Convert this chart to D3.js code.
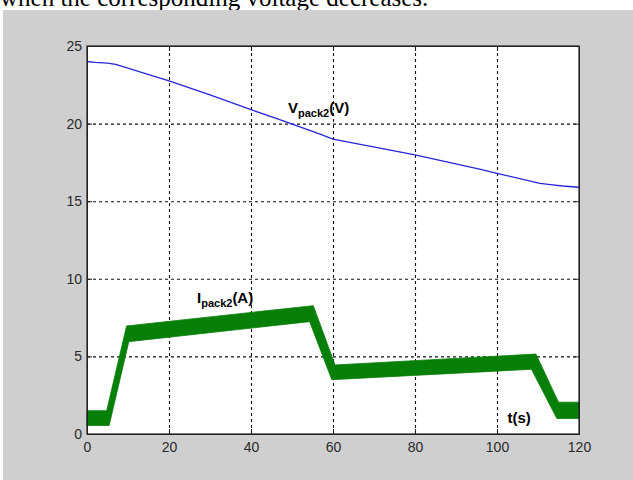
<!DOCTYPE html>
<html>
<head>
<meta charset="utf-8">
<script src="https://d3js.org/d3.v7.min.js"></script>
<style>
  body { margin: 0; background: #fff; }
  svg { display: block; }
  .tick text { font-family: "Liberation Sans", Arial, sans-serif; font-size: 14px; fill: #2a2a2a; }
  .lbl { font-family: "Liberation Sans", Arial, sans-serif; font-weight: bold; fill: #000; }
</style>
</head>
<body>
<svg id="chart" width="633" height="480"></svg>
<script>
// voltage of pack 2 (V)
var timeV = [0, 2, 5, 7, 20, 30, 40, 47, 55, 57, 60, 80, 96, 100, 110.5, 113, 116, 120];
var volt  = [24.0, 23.95, 23.9, 23.82, 22.75, 21.85, 20.9, 20.25, 19.5, 19.3, 19.0, 17.98, 17.05, 16.8, 16.15, 16.07, 15.98, 15.9];

// current of pack 2 (A): the ripple band, upper and lower envelope
var timeUp = [0, 4.8, 9.65, 55.2, 60.5, 109.5, 115, 120];
var curUp  = [1.5, 1.5, 6.96, 8.27, 4.45, 5.15, 2.05, 2.05];
var timeLo = [0, 5.4, 10.2, 54.3, 59.7, 108.4, 114.6, 120];
var curLo  = [0.55, 0.55, 5.95, 7.24, 3.5, 4.17, 1.0, 1.0];

var xTicks = [0, 20, 40, 60, 80, 100, 120];
var yTicks = [0, 5, 10, 15, 20, 25];

var svg = d3.select('#chart');

// caption line cut off at the top
svg.append('text')
  .attr('x', 0).attr('y', 6)
  .style('font-family', '"Liberation Serif", "Times New Roman", serif')
  .style('font-size', '25px')
  .text('when the corresponding voltage decreases.');

// grey figure panel
svg.append('rect').attr('x', 3).attr('y', 10).attr('width', 630).attr('height', 470).attr('fill', '#cfcfcf');

var pL = 87, pT = 46, pR = 579, pB = 434;
var x = d3.scaleLinear().domain([0, 120]).range([pL, pR]);
var y = d3.scaleLinear().domain([0, 25]).range([pB, pT]);

svg.append('rect').attr('x', pL).attr('y', pT)
  .attr('width', pR - pL).attr('height', pB - pT).attr('fill', '#fff');

// dotted grid
svg.append('g').attr('transform', 'translate(0,' + pB + ')')
  .call(d3.axisBottom(x).tickValues(xTicks.slice(1, -1)).tickSize(-(pB - pT)).tickFormat(''))
  .call(function(g) { g.select('.domain').remove(); })
  .selectAll('line').attr('stroke', '#111').attr('stroke-width', 1.1).attr('stroke-dasharray', '3,3');
svg.append('g').attr('transform', 'translate(' + pL + ',0)')
  .call(d3.axisLeft(y).tickValues(yTicks.slice(1, -1)).tickSize(-(pR - pL)).tickFormat(''))
  .call(function(g) { g.select('.domain').remove(); })
  .selectAll('line').attr('stroke', '#111').attr('stroke-width', 1.1).attr('stroke-dasharray', '3,3');

// current band
var pts = timeUp.map(function(t, i) { return [t, curUp[i]]; })
  .concat(timeLo.map(function(t, i) { return [t, curLo[i]]; }).reverse());
svg.append('path')
  .attr('d', d3.line().x(function(d) { return x(d[0]); }).y(function(d) { return y(d[1]); })(pts) + 'Z')
  .attr('fill', '#087f08').attr('stroke', '#087f08').attr('stroke-width', 0.8);

// voltage line
svg.append('path')
  .datum(timeV.map(function(t, i) { return [t, volt[i]]; }))
  .attr('d', d3.line().x(function(d) { return x(d[0]); }).y(function(d) { return y(d[1]); }))
  .attr('fill', 'none').attr('stroke', '#2626d8').attr('stroke-width', 1.3);

// axes with inward ticks
var axes = svg.append('g');
axes.append('g').attr('transform', 'translate(0,' + pB + ')')
  .call(d3.axisBottom(x).tickValues(xTicks).tickSize(-5).tickPadding(8));
axes.append('g').attr('transform', 'translate(' + pL + ',0)')
  .call(d3.axisLeft(y).tickValues(yTicks).tickSize(-5).tickPadding(5));
axes.append('g').attr('transform', 'translate(0,' + pT + ')')
  .call(d3.axisTop(x).tickValues(xTicks).tickSize(-5).tickFormat(''));
axes.append('g').attr('transform', 'translate(' + pR + ',0)')
  .call(d3.axisRight(y).tickValues(yTicks).tickSize(-5).tickFormat(''));
axes.selectAll('.domain, .tick line').attr('stroke', '#222');
svg.append('rect').attr('x', pL).attr('y', pT)
  .attr('width', pR - pL).attr('height', pB - pT)
  .attr('fill', 'none').attr('stroke', '#222').attr('stroke-width', 1.2);

// labels
function subLabel(px, py, main, sub, tail) {
  var t = svg.append('text').attr('class', 'lbl').attr('x', px).attr('y', py);
  t.append('tspan').style('font-size', '15px').text(main);
  t.append('tspan').style('font-size', '11px').attr('dy', 3.4).text(sub);
  t.append('tspan').style('font-size', '15px').attr('dy', -3.4).text(tail);
}
subLabel(288, 113.3, 'V', 'pack2', '(V)');
subLabel(197, 303.3, 'I', 'pack2', '(A)');
svg.append('text').attr('class', 'lbl').attr('x', 507.5).attr('y', 422.7)
  .style('font-size', '15px').text('t(s)');
</script>
</body>
</html>
